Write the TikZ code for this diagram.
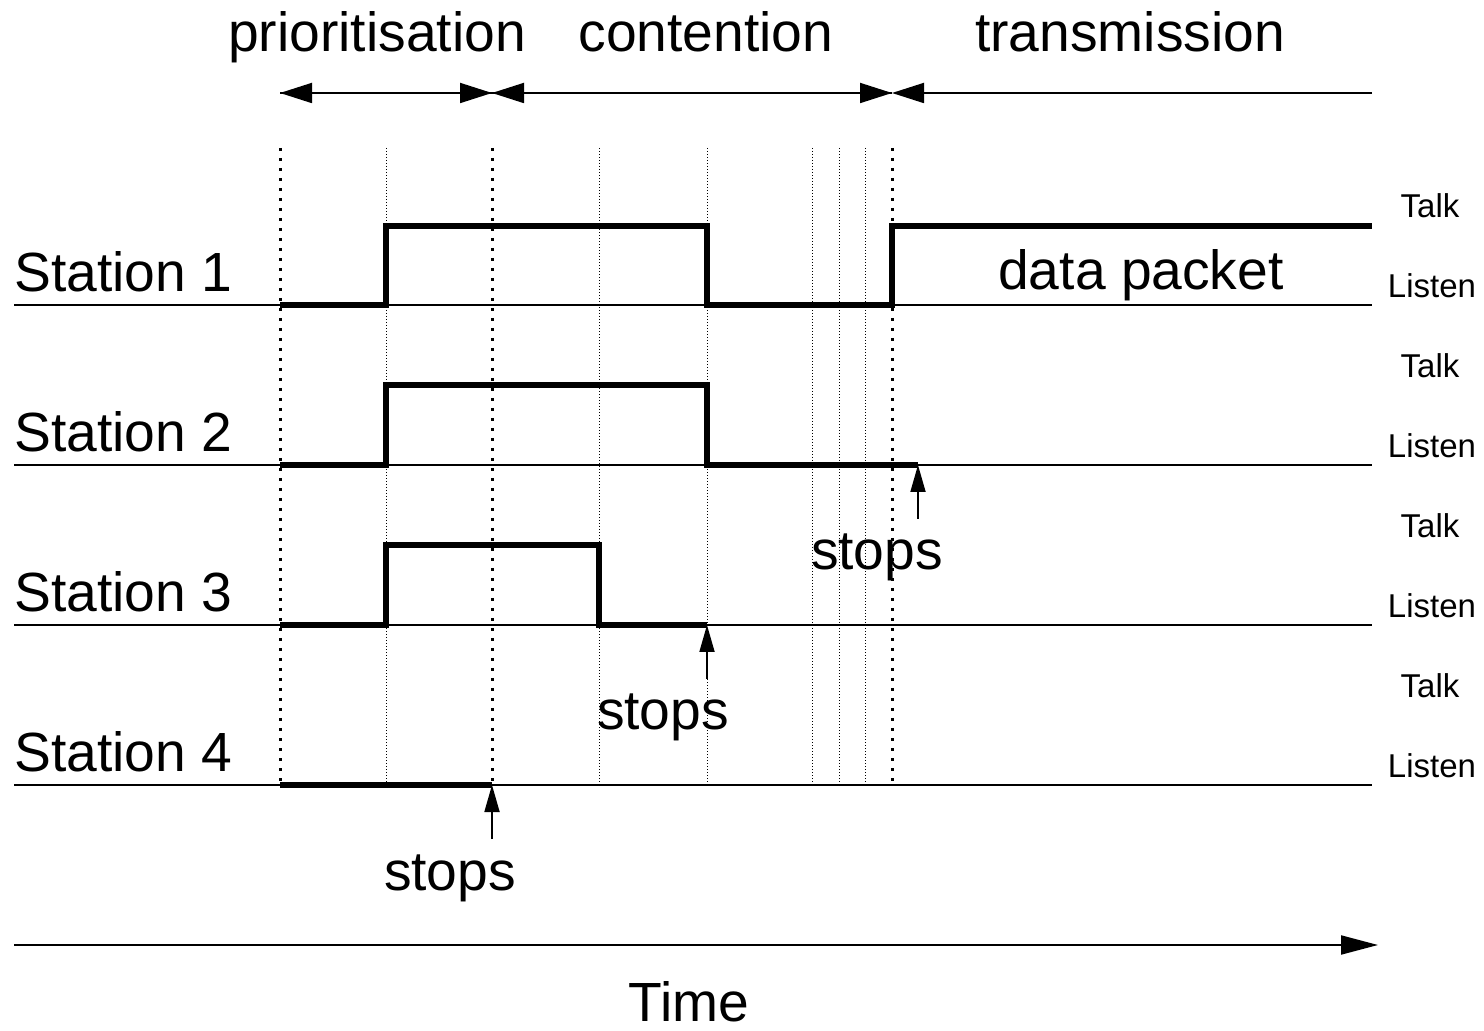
\documentclass[tikz,border=0pt]{standalone}
\usepackage{fontspec}
\setmainfont{Liberation Sans}
\usetikzlibrary{arrows.meta}
\begin{document}
\begin{tikzpicture}[x=0.5pt,y=-0.5pt,
  big/.style={font=\fontsize{27.6}{30}\selectfont, inner sep=0pt},
  small/.style={font=\fontsize{16.5}{18}\selectfont, inner sep=0pt},
  baseline line/.style={line width=0.75pt},
  signal/.style={line width=3pt, line join=miter},
  thickdot/.style={line width=1.5pt, dash pattern=on 1.5pt off 3.5pt},
  thindot/.style={line width=0.5pt, dash pattern=on 0.5pt off 1pt},
  phase/.style={line width=0.9pt, -{Triangle[length=16pt,width=10pt]}},
  stoparrow/.style={line width=0.9pt, -{Triangle[length=13.5pt,width=7.5pt]}},
  timearrow/.style={line width=1pt, -{Triangle[length=18.5pt,width=9.5pt]}}
]
\useasboundingbox (0,0) rectangle (1484,1031);

% phase labels
\node[big, anchor=base] (lprio) at (377,52) {prioritisation};
\node[big, anchor=base] (lcont) at (706,52) {contention};
\node[big, anchor=base] (ltran) at (1130,52) {transmission};

% phase boundaries
\coordinate (p0) at (280,93);
\coordinate (p1) at (492,93);
\coordinate (p2) at (892,93);
\coordinate (p3) at (1372,93);
\draw[phase] (p1) -- (p0);
\draw[phase] (p0) -- (p1);
\draw[phase] (p2) -- (p1);
\draw[phase] (p1) -- (p2);
\draw[phase] (p3) -- (p2);

% dotted vertical lines
\foreach \x in {280,492,892} \draw[thickdot] (\x,148) -- (\x,785);
\foreach \x in {386,599,707,812,839,865} \draw[thindot] (\x,148) -- (\x,785);

% baselines
\foreach \y in {305,465,625,785} \draw[baseline line] (14,\y) -- (1372,\y);

% station labels
\node[big, anchor=base west] (st1) at (14,292) {Station 1};
\node[big, anchor=base west] (st2) at (14,452) {Station 2};
\node[big, anchor=base west] (st3) at (14,612) {Station 3};
\node[big, anchor=base west] (st4) at (14,772) {Station 4};

% Talk / Listen
\foreach \y/\n in {305/1,465/2,625/3,785/4}{
  \node[small] (talk\n) at (1430,\y-99) {Talk};
  \node[small] (listen\n) at (1432,\y-19) {Listen};
}

% signals
\draw[signal] (280,305) -- (386,305) -- (386,226) -- (707,226) -- (707,305) -- (892,305) -- (892,226) -- (1372,226);
\draw[signal] (280,465) -- (386,465) -- (386,385) -- (707,385) -- (707,465) -- (918,465);
\draw[signal] (280,625) -- (386,625) -- (386,545) -- (599,545) -- (599,625) -- (707,625);
\draw[signal] (280,785) -- (492,785);

\node[big, anchor=base] (data) at (1141,290) {data packet};

% stops arrows
\coordinate (s2tip) at (918,465);
\coordinate (s2tail) at (918,519);
\coordinate (s3tip) at (707,625);
\coordinate (s3tail) at (707,679);
\coordinate (s4tip) at (492,785);
\coordinate (s4tail) at (492,839);
\draw[stoparrow] (s2tail) -- (s2tip);
\draw[stoparrow] (s3tail) -- (s3tip);
\draw[stoparrow] (s4tail) -- (s4tip);
\node[big, anchor=base] (stop2) at (877,570) {stops};
\node[big, anchor=base] (stop3) at (663,730) {stops};
\node[big, anchor=base] (stop4) at (450,890) {stops};

% time axis
\coordinate (t0) at (14,945);
\coordinate (t1) at (1378,945);
\draw[timearrow] (t0) -- (t1);
\node[big, anchor=base] (time) at (689,1021) {Time};
\end{tikzpicture}
\end{document}
